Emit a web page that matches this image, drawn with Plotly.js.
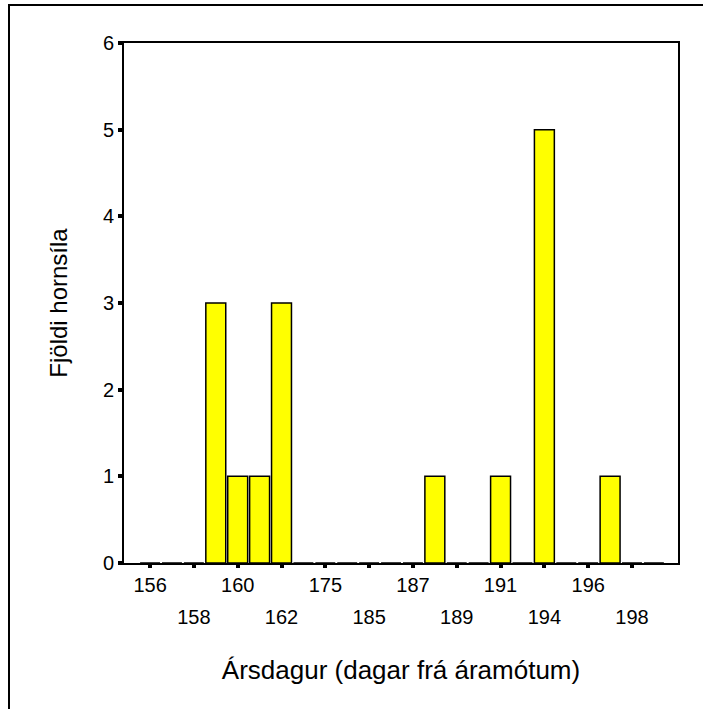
<!DOCTYPE html>
<html>
<head>
<meta charset="utf-8">
<script src="https://cdn.plot.ly/plotly-3.0.1.min.js"></script>
<style>html,body{margin:0;padding:0;background:#fff;}#chart{width:703px;height:709px;}</style>
</head>
<body>
<div id="chart"></div>
<script>
// Day-of-year categories (every other one labelled on the axis)
var categories = ['156','157','158','159','160','161','162','163','175','180','185','186','187','188','189','190','191','193','194','195','196','197','198','199'];
var counts     = [0, 0, 0, 3, 1, 1, 3, 0, 0, 0, 0, 0, 0, 1, 0, 0, 1, 0, 5, 0, 0, 1, 0, 0];
var labelsRow1 = ['156','160','175','187','191','196'];
var labelsRow2 = ['158','162','185','189','194','198'];
var yTicks     = [0, 1, 2, 3, 4, 5, 6];
var xTitle = 'Ársdagur (dagar frá áramótum)';
var yTitle = 'Fjöldi hornsíla';

var allLabelled = [];
var allText = [];
for (var i = 0; i < labelsRow1.length; i++) {
  allLabelled.push(labelsRow1[i]); allText.push(labelsRow1[i]);
  allLabelled.push(labelsRow2[i]); allText.push('');
}

var fam = 'Liberation Sans, Arial, sans-serif';
var tickSize = 20;

var traces = [
  {type: 'bar', x: categories, y: counts, xaxis: 'x', yaxis: 'y',
   marker: {color: '#FFFF00', line: {color: '#000', width: 1.5}},
   hoverinfo: 'x+y', showlegend: false},
  {type: 'bar', x: categories, y: counts, xaxis: 'x2', yaxis: 'y',
   marker: {color: 'rgba(0,0,0,0)', line: {width: 0}},
   hoverinfo: 'skip', showlegend: false}
];

var xr = [-1.19, 24.1];
var layout = {
  width: 703, height: 709,
  margin: {l: 124, r: 25, t: 43, b: 146},
  paper_bgcolor: '#fff', plot_bgcolor: '#fff',
  font: {family: fam, color: '#000'},
  bargap: 0.09,
  showlegend: false,
  xaxis: {
    type: 'category', categoryorder: 'array', categoryarray: categories,
    range: xr, tickmode: 'array', tickvals: allLabelled, ticktext: allText,
    ticks: 'outside', ticklen: 3, tickwidth: 4, tickcolor: '#000',
    showline: true, linecolor: '#000', linewidth: 2, mirror: true,
    showgrid: false, zeroline: false,
    tickfont: {size: tickSize, family: fam, color: '#000'},
    title: {text: xTitle, font: {size: 26, family: fam, color: '#000'}, standoff: 66},
    automargin: false, fixedrange: true
  },
  xaxis2: {
    type: 'category', categoryorder: 'array', categoryarray: categories,
    overlaying: 'x', anchor: 'y', side: 'bottom',
    range: xr, tickmode: 'array', tickvals: labelsRow2, ticktext: labelsRow2,
    ticks: 'outside', ticklen: 36, tickwidth: 1, tickcolor: 'rgba(0,0,0,0)',
    showline: false, showgrid: false, zeroline: false,
    tickfont: {size: tickSize, family: fam, color: '#000'},
    automargin: false, fixedrange: true
  },
  yaxis: {
    range: [0, 6], tickmode: 'array', tickvals: yTicks,
    ticks: 'outside', ticklen: 4, tickwidth: 4, tickcolor: '#000',
    showline: true, linecolor: '#000', linewidth: 2, mirror: true,
    showgrid: false, zeroline: false,
    tickfont: {size: tickSize, family: fam, color: '#000'},
    title: {text: yTitle, font: {size: 24, family: fam, color: '#000'}, standoff: 28},
    automargin: false, fixedrange: true
  },
  shapes: [{
    type: 'rect', xref: 'paper', yref: 'paper',
    x0: (9 - 124) / 554, x1: (720 - 124) / 554,
    y0: (563 - 5) / 520, y1: (563 - 720) / 520,
    line: {color: '#000', width: 2}, fillcolor: 'rgba(0,0,0,0)', layer: 'below'
  }]
};

Plotly.newPlot('chart', traces, layout, {displayModeBar: false, staticPlot: true});
</script>
</body>
</html>
